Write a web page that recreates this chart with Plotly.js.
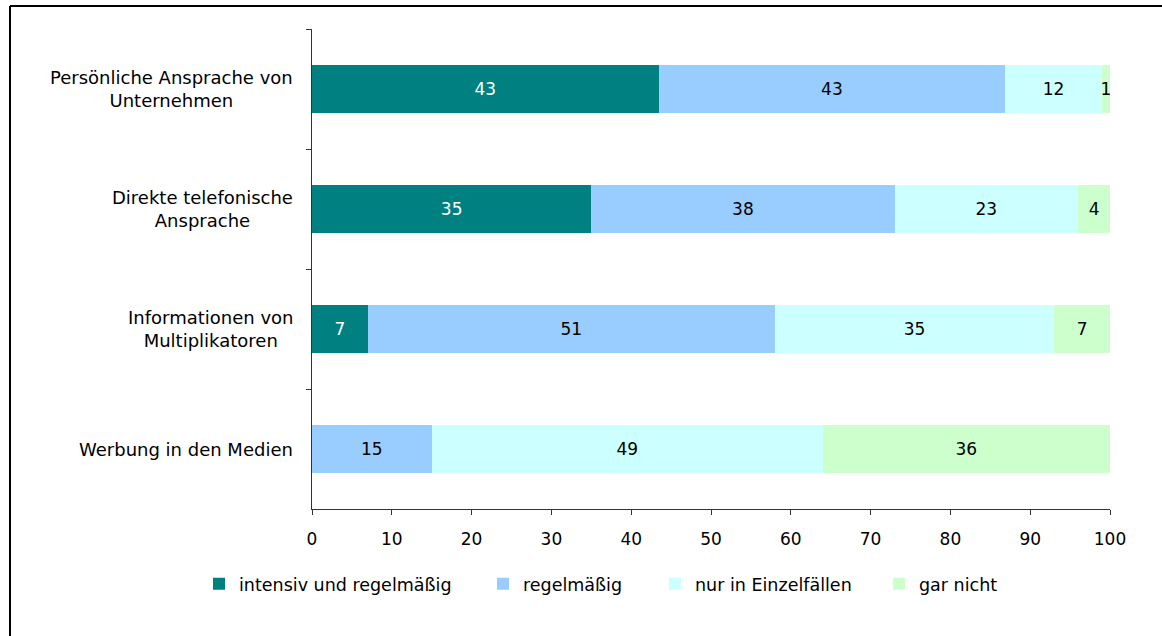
<!DOCTYPE html>
<html>
<head>
<meta charset="utf-8">
<script src="https://cdn.plot.ly/plotly-3.0.1.min.js"></script>
<style>
  html, body { margin: 0; padding: 0; background: #fff; }
  #chart { width: 1162px; height: 636px; }
</style>
</head>
<body>
<div id="chart"></div>
<script>
// ---- data ----
var categories = [
  "Persönliche Ansprache von<br>Unternehmen",
  "Direkte telefonische<br>Ansprache",
  "Informationen von<br>Multiplikatoren",
  "Werbung in den Medien"
];
var seriesNames = ["intensiv und regelmäßig", "regelmäßig", "nur in Einzelfällen", "gar nicht"];
var intensivUndRegelmaessig = [43, 35, 7, null];
var regelmaessig = [43, 38, 51, 15];
var nurInEinzelfaellen = [12, 23, 35, 49];
var garNicht = [1, 4, 7, 36];
var xTicks = [0, 10, 20, 30, 40, 50, 60, 70, 80, 90, 100];

var seriesValues = [intensivUndRegelmaessig, regelmaessig, nurInEinzelfaellen, garNicht];
var seriesColors = ["#008080", "#99CCFF", "#CCFFFF", "#CCFFCC"];
var textColors = ["#ffffff", "#000000", "#000000", "#000000"];
var legendIds = ["legend", "legend2", "legend3", "legend4"];

var FONT = "DejaVu Sans, Arial, sans-serif";

var traces = seriesValues.map(function (vals, i) {
  return {
    type: "bar",
    orientation: "h",
    name: seriesNames[i],
    y: categories,
    x: vals,
    text: vals.map(function (v) { return v === null ? "" : String(v); }),
    texttemplate: "%{text}",
    textposition: "inside",
    insidetextanchor: "middle",
    textangle: 0,
    constraintext: "none",
    insidetextfont: { family: FONT, size: 17, color: textColors[i] },
    marker: { color: seriesColors[i], line: { width: 0 } },
    legend: legendIds[i],
    hoverinfo: "skip"
  };
});

// y labels as annotations (right aligned block, centred lines)
var annotations = categories.map(function (c) {
  return {
    xref: "paper", yref: "y",
    x: -0.0213, y: c,
    xanchor: "right", yanchor: "middle",
    align: "center",
    text: c,
    showarrow: false,
    font: { family: FONT, size: 18, color: "#000" }
  };
});

function legendAt(x) {
  return {
    orientation: "h",
    x: x, xanchor: "left",
    y: -0.156, yanchor: "middle",
    font: { family: FONT, size: 17.5, color: "#000" },
    bgcolor: "rgba(0,0,0,0)",
    borderwidth: 0,
    tracegroupgap: 0
  };
}

var layout = {
  width: 1162,
  height: 636,
  margin: { l: 312, r: 52, t: 29, b: 127, pad: 0 },
  paper_bgcolor: "#ffffff",
  plot_bgcolor: "#ffffff",
  font: { family: FONT, size: 17, color: "#000" },
  barmode: "stack",
  barnorm: "percent",
  bargap: 0.6,
  showlegend: true,
  legend: legendAt(-0.1416),
  legend2: legendAt(0.2143),
  legend3: legendAt(0.4298),
  legend4: legendAt(0.7105),
  xaxis: {
    range: [0, 100],
    tickvals: xTicks,
    ticktext: xTicks.map(String),
    showgrid: false,
    zeroline: false,
    showline: true,
    linecolor: "#333",
    linewidth: 1,
    ticks: "outside",
    ticklen: 5,
    tickcolor: "#333",
    tickfont: { family: FONT, size: 17, color: "#000" },
    ticklabelstandoff: 10,
    fixedrange: true
  },
  yaxis: {
    type: "category",
    categoryorder: "array",
    categoryarray: categories,
    autorange: "reversed",
    showgrid: false,
    zeroline: false,
    showline: true,
    linecolor: "#333",
    linewidth: 1,
    ticks: "outside",
    ticklen: 5,
    tickcolor: "#333",
    tickson: "boundaries",
    showticklabels: false,
    fixedrange: true
  },
  annotations: annotations,
  shapes: [
    { type: "line", xref: "paper", yref: "paper", x0: -0.37845, x1: 1.1, y0: 1.04792, y1: 1.04792,
      line: { color: "#000", width: 2 } },
    { type: "line", xref: "paper", yref: "paper", x0: -0.37845, x1: -0.37845, y0: 1.04792, y1: -0.3,
      line: { color: "#000", width: 2 } }
  ]
};

Plotly.newPlot("chart", traces, layout, { displayModeBar: false, staticPlot: true });
</script>
</body>
</html>
